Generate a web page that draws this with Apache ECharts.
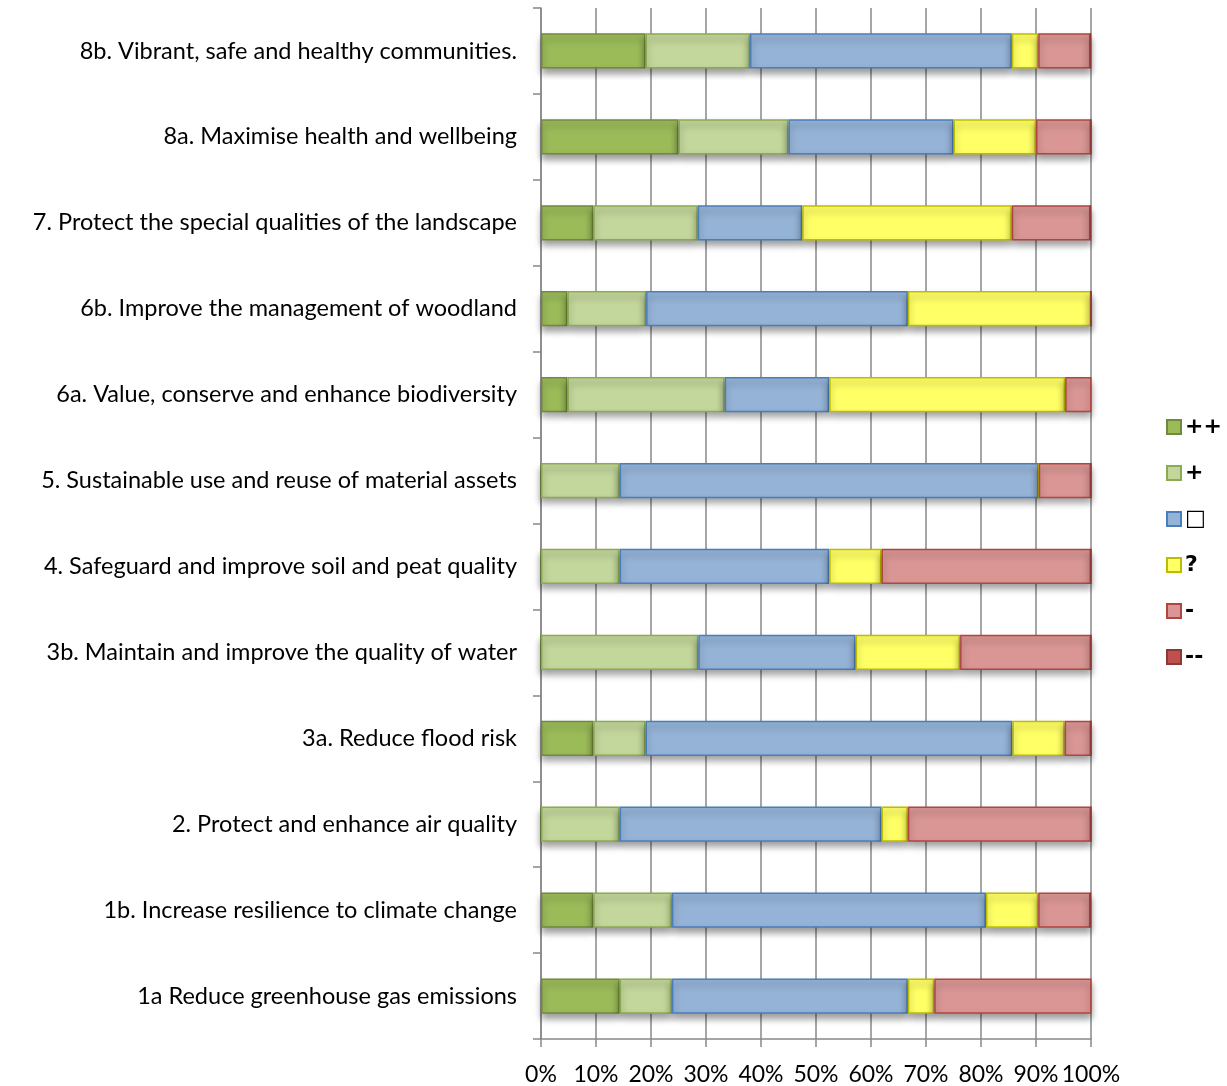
<!DOCTYPE html>
<html>
<head>
<meta charset="utf-8">
<script src="https://cdn.jsdelivr.net/npm/echarts@6/dist/echarts.min.js"></script>
<style>
  html, body { margin: 0; padding: 0; background: #fff; }
  #chart { width: 1227px; height: 1086px; }
</style>
</head>
<body>
<div id="chart"></div>
<script>
// Objectives, bottom to top
const categories = [
  '1a Reduce greenhouse gas emissions',
  '1b. Increase resilience to climate change',
  '2. Protect and enhance air quality',
  '3a. Reduce flood risk',
  '3b. Maintain and improve the quality of water',
  '4. Safeguard and improve soil and peat quality',
  '5. Sustainable use and reuse of material assets',
  '6a. Value, conserve and enhance biodiversity',
  '6b. Improve the management of woodland',
  '7. Protect the special qualities of the landscape',
  '8a. Maximise health and wellbeing',
  '8b. Vibrant, safe and healthy communities.'
];

// Share of assessments (%) per effect, same order as categories
const veryPositive = [14.3, 9.5, 0, 9.5, 0, 0, 0, 4.8, 4.8, 9.5, 25, 19.0];
const positive     = [9.5, 14.3, 14.3, 9.5, 28.6, 14.3, 14.3, 28.6, 14.3, 19.0, 20, 19.0];
const neutral      = [42.9, 57.1, 47.6, 66.7, 28.6, 38.1, 76.2, 19.0, 47.6, 19.0, 30, 47.6];
const uncertain    = [4.8, 9.5, 4.8, 9.5, 19.0, 9.5, 0, 42.9, 33.3, 38.1, 15, 4.8];
const negative     = [28.6, 9.5, 33.3, 4.8, 23.8, 38.1, 9.5, 4.8, 0, 14.3, 10, 9.5];
const veryNegative = [0, 0, 0, 0, 0, 0, 0, 0, 0, 0, 0, 0];

const xTicks = ['0%', '10%', '20%', '30%', '40%', '50%', '60%', '70%', '80%', '90%', '100%'];

const FONT = 'Lato, "DejaVu Sans", sans-serif';

function makeSeries(name, data, fill, border) {
  return {
    name: name,
    type: 'bar',
    stack: 'total',
    data: data,
    barWidth: '41%',
    itemStyle: {
      color: fill,
      borderColor: border,
      borderWidth: 1.5,
      shadowColor: 'rgba(0,0,0,0.4)',
      shadowBlur: 7,
      shadowOffsetY: 5
    },
    emphasis: { disabled: true }
  };
}

const chart = echarts.init(document.getElementById('chart'), null, { renderer: 'canvas' });
chart.setOption({
  animation: false,
  grid: { left: 541, right: 136, top: 8, bottom: 46, containLabel: false },
  legend: {
    orient: 'vertical',
    left: 1161,
    top: 410,
    itemWidth: 14,
    itemHeight: 14,
    itemGap: 22,
    icon: 'rect',
    textStyle: { fontFamily: '"DejaVu Sans", Lato, sans-serif', fontSize: 22, fontWeight: 'bold', color: '#000', padding: [0, 0, 0, -1], lineHeight: 24 },
    data: ['++', '+', '\u25A1', '?', '-', '--']
  },
  xAxis: {
    type: 'value',
    min: 0,
    max: 100,
    interval: 10,
    axisLine: { show: true, lineStyle: { color: '#888', width: 1.5 } },
    axisTick: { show: true, length: 8, lineStyle: { color: '#888', width: 1.5 } },
    splitLine: { show: true, lineStyle: { color: '#888', width: 1.5 } },
    axisLabel: {
      margin: 24,
      fontFamily: FONT,
      fontSize: 23,
      color: '#000',
      formatter: function (v) { return xTicks[Math.round(v / 10)]; }
    }
  },
  yAxis: {
    type: 'category',
    data: categories,
    axisLine: { show: true, lineStyle: { color: '#888', width: 1.5 } },
    axisTick: { show: true, length: 8, alignWithLabel: false, lineStyle: { color: '#888', width: 1.5 } },
    axisLabel: { margin: 24, fontFamily: FONT, fontSize: 23.5, color: '#000' }
  },
  series: [
    makeSeries('++', veryPositive, '#9bbb59', '#71893f'),
    makeSeries('+', positive, '#c3d69b', '#8aab4f'),
    makeSeries('\u25A1', neutral, '#95b3d7', '#4a7ebb'),
    makeSeries('?', uncertain, '#ffff66', '#bdbd00'),
    makeSeries('-', negative, '#d99694', '#b04542'),
    makeSeries('--', veryNegative, '#c0504d', '#8c3836')
  ]
});
</script>
</body>
</html>
